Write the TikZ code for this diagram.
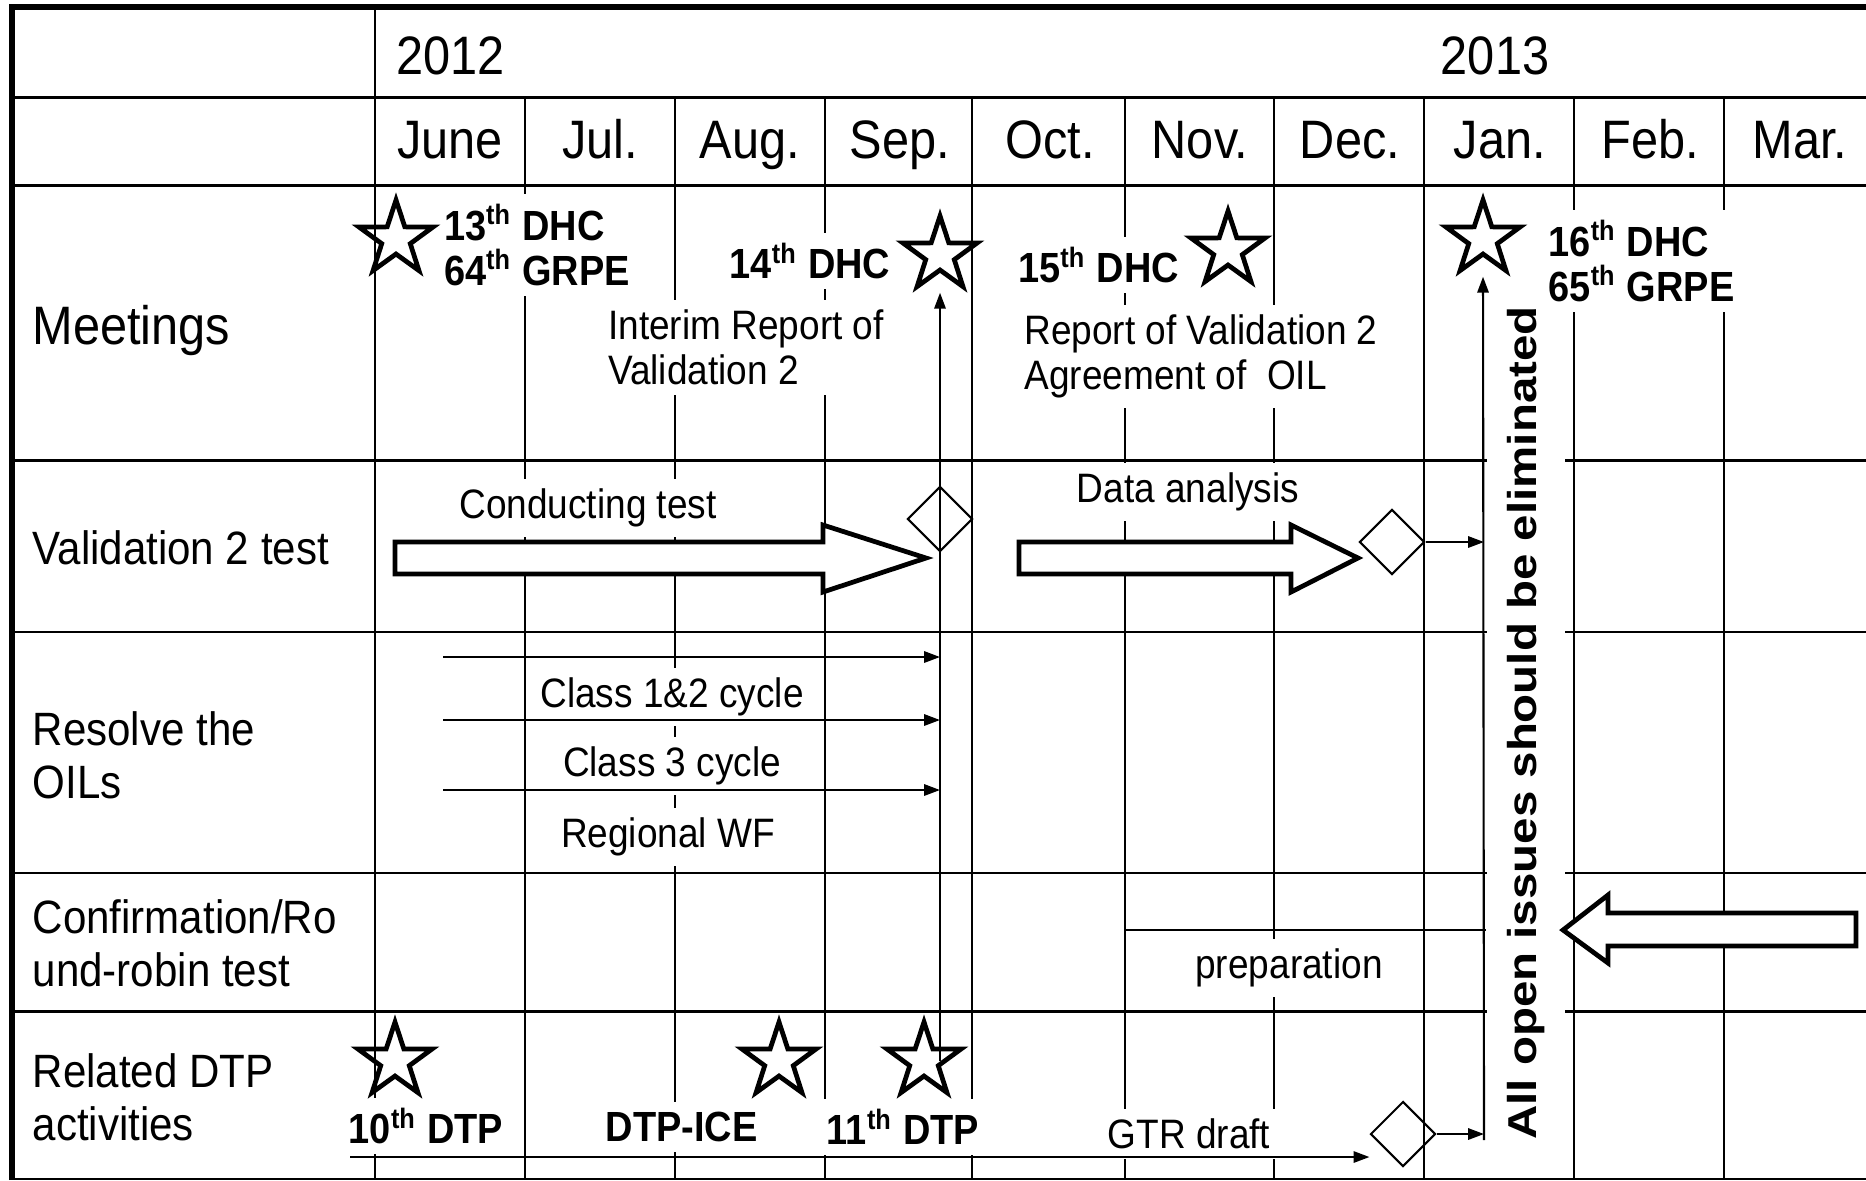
\documentclass[tikz,border=0pt]{standalone}
\usepackage{fontspec}
\setmainfont{Liberation Sans}[FakeStretch=0.9]
\newfontfamily\vertfont{Liberation Sans}
\usetikzlibrary{shapes.geometric,arrows.meta}

\tikzset{
  meetstar/.style={star, star points=5, star point ratio=2.6, draw, line width=1.35pt, minimum size=0.78cm, inner sep=0pt},
  milestone/.style={diamond, draw, line width=0.6pt, minimum width=0.65cm, minimum height=0.65cm, inner sep=0pt},
  blockarr/.style={draw, fill=white, line width=1.35pt, line join=miter},
  conn/.style={-{Triangle[length=4.5pt,width=3.2pt]}, line width=0.6pt},
  gridline/.style={line width=0.6pt},
}

\begin{document}
\begin{tikzpicture}[
  headlbl/.style={font=\fontsize{15.4}{18}\selectfont, anchor=base, inner sep=0pt},
  rowlbl/.style={font=\fontsize{13.3}{15}\selectfont, align=left, anchor=west, inner sep=0pt},
  evtlbl/.style={font=\bfseries\fontsize{12}{12.8}\selectfont, align=left, fill=white, inner sep=0.1cm},
  notelbl/.style={font=\fontsize{11.7}{12.8}\selectfont, align=left, fill=white, inner sep=0.1cm}
]
  \useasboundingbox (0,0) rectangle (18.66,-11.80);

  % table grid
  \foreach \y in {0.976,1.856,4.605,6.32,8.73,10.115,11.79}
    \draw[line width=0.75pt] (0.12,-\y) -- (18.66,-\y);
  \draw[gridline] (3.75,-0.07) -- (3.75,-11.80);
  \foreach \x in {5.25,6.75,8.25,9.72,11.25,12.74,14.24,15.74,17.24}
    \draw[gridline] (\x,-0.976) -- (\x,-11.80);
  \draw[line width=1.6pt] (0.12,-11.80) -- (0.12,-0.07) -- (18.66,-0.07);

  % header
  \node[headlbl, anchor=base west] (y2012) at (3.96,-0.74) {2012};
  \node[headlbl] (y2013) at (14.95,-0.74) {2013};
  \foreach \m [count=\i] in {June,Jul.,Aug.,Sep.,Oct.,Nov.,Dec.,Jan.,Feb.,Mar.}
    \node[headlbl] (mon\i) at ({3.0+1.5*\i},-1.58) {\m};

  % row labels
  \node[rowlbl, anchor=base west, font=\fontsize{15.4}{18}\selectfont] (meetings) at (0.32,-3.44) {Meetings};
  \node[rowlbl, anchor=base west] (valtest) at (0.32,-5.64) {Validation 2 test};
  \node[rowlbl] (resolve) at (0.32,-7.555) {Resolve the\\OILs};
  \node[rowlbl] (confirm) at (0.32,-9.43) {Confirmation/Ro\\und-robin test};
  \node[rowlbl] (related) at (0.32,-10.975) {Related DTP\\activities};

  \coordinate (prepstart) at (11.25,-9.30);
  \coordinate (prepend) at (14.86,-9.30);
  \draw[gridline] (prepstart) -- (prepend);

  % meetings
  \node[evtlbl] (dhc13lbl) at (5.37,-2.45) {13\textsuperscript{th} DHC\\64\textsuperscript{th} GRPE};
  \node[evtlbl] (dhc14lbl) at (8.10,-2.61) {14\textsuperscript{th} DHC};
  \node[notelbl] (interim) at (7.46,-3.475) {Interim Report of\\Validation 2};
  \node[evtlbl] (dhc15lbl) at (10.985,-2.65) {15\textsuperscript{th} DHC};
  \node[notelbl] (report) at (12.01,-3.565) {Report of Validation 2\\Agreement of\ \ OIL};

  % validation, OILs, round-robin
  \node[notelbl] (conducting) at (5.88,-5.08) {Conducting test};
  \node[notelbl] (analysis) at (11.88,-4.92) {Data analysis};
  \node[notelbl] (cls12) at (6.72,-6.97) {Class 1\&2 cycle};
  \node[notelbl] (cls3) at (6.72,-7.66) {Class 3 cycle};
  \node[notelbl] (regwf) at (6.68,-8.37) {Regional WF};
  \node[notelbl] (prep) at (12.89,-9.68) {preparation};

  % DTP
  \node[evtlbl] (dtp10lbl) at (4.26,-11.26) {10\textsuperscript{th} DTP};
  \node[evtlbl] (dtpicelbl) at (6.815,-11.27) {DTP-ICE};
  \node[evtlbl] (dtp11lbl) at (9.03,-11.27) {11\textsuperscript{th} DTP};
  \node[notelbl] (gtr) at (11.89,-11.34) {GTR draft};

  \node[font=\vertfont\bfseries\fontsize{13.5}{15}\selectfont, fill=white, rotate=90,
        inner xsep=0.05cm, inner ysep=0.2cm] (allclear) at (15.26,-7.23)
        {\scalebox{1}[0.85]{All open issues should be eliminated}};
  \node[evtlbl] (dhc16lbl) at (16.415,-2.61) {16\textsuperscript{th} DHC\\65\textsuperscript{th} GRPE};

  % stars and milestones
  \node[meetstar] (dhc13) at (3.96,-2.39) {};
  \node[meetstar] (dhc14) at (9.40,-2.55) {};
  \node[meetstar] (dhc15) at (12.28,-2.50) {};
  \node[meetstar] (dhc16) at (14.83,-2.39) {};
  \node[meetstar] (dtp10) at (3.95,-10.61) {};
  \node[meetstar] (dtpice) at (7.79,-10.61) {};
  \node[meetstar] (dtp11) at (9.24,-10.61) {};
  \node[milestone] (diam1) at (9.40,-5.19) {};
  \node[milestone] (diam2) at (13.92,-5.42) {};
  \node[milestone] (diam3) at (14.03,-11.34) {};

  \draw[blockarr] (3.95,-5.42) -- (8.23,-5.42) -- (8.23,-5.25) -- (9.26,-5.58)
    -- (8.23,-5.92) -- (8.23,-5.74) -- (3.95,-5.74) -- cycle;
  \draw[blockarr] (10.19,-5.42) -- (12.91,-5.42) -- (12.91,-5.25) -- (13.58,-5.58)
    -- (12.91,-5.92) -- (12.91,-5.74) -- (10.19,-5.74) -- cycle;
  \draw[blockarr] (18.56,-9.13) -- (16.08,-9.13) -- (16.08,-8.95) -- (15.63,-9.30)
    -- (16.08,-9.63) -- (16.08,-9.46) -- (18.56,-9.46) -- cycle;

  % connectors
  \coordinate (gtrjoin) at (14.84,-11.40);
  \coordinate (gtrstart) at (3.50,-11.57);
  \draw[conn] (dtp11.center -| dhc14.center) -- (dhc14.center |- dhc14.outer point 3);
  \draw[conn] (gtrjoin) -- (dhc16.center |- dhc16.outer point 3);
  \draw[conn] (diam2.east) -- (diam2.east -| gtrjoin);
  \draw[conn] (diam3.east) -- (diam3.east -| gtrjoin);
  \draw[conn] (gtrstart) -- (gtrstart -| diam3.west);
  \foreach \y [count=\i] in {-6.57,-7.20,-7.90} {
    \coordinate (oilstart\i) at (4.43,\y);
    \draw[conn] (oilstart\i) -- (oilstart\i -| dhc14.center);
  }
\end{tikzpicture}
\end{document}
